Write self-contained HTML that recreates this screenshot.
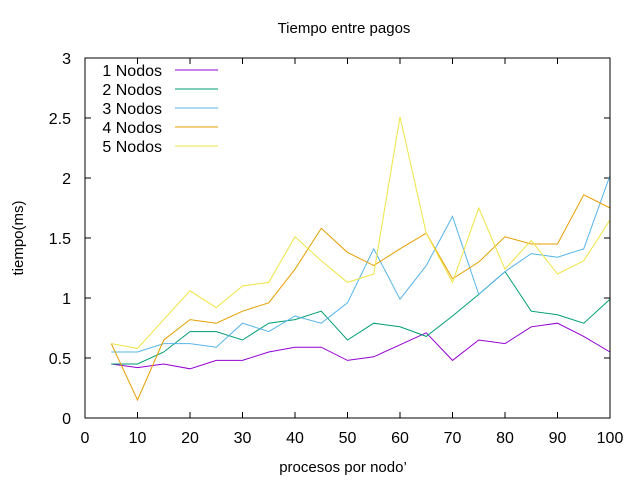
<!DOCTYPE html>
<html><head><meta charset="utf-8"><style>
body{margin:0;background:#fff}
svg{display:block;font-family:"Liberation Sans",sans-serif;font-size:16px}
</style></head><body>
<svg id="chart" width="640" height="480">
<rect width="640" height="480" fill="#fff"/>
<text x="344" y="33" text-anchor="middle" font-size="15">Tiempo entre pagos</text>
<text x="343" y="472" text-anchor="middle" font-size="15">procesos por nodo’</text>
<text transform="translate(23,238) rotate(-90)" text-anchor="middle" font-size="15">tiempo(ms)</text>
<g id="axes"></g><g id="series"></g><g id="legend"></g>
<rect x="85" y="58" width="525" height="360" fill="none" stroke="#000" stroke-width="1"/>
</svg>
<script>
const xValues=[5,10,15,20,25,30,35,40,45,50,55,60,65,70,75,80,85,90,95,100];
const seriesNames=["1 Nodos","2 Nodos","3 Nodos","4 Nodos","5 Nodos"];
const s1=[0.45,0.42,0.45,0.41,0.48,0.48,0.55,0.59,0.59,0.48,0.51,0.61,0.71,0.48,0.65,0.62,0.76,0.79,0.68,0.55];
const s2=[0.45,0.45,0.55,0.72,0.72,0.65,0.79,0.82,0.89,0.65,0.79,0.76,0.68,0.85,1.03,1.22,0.89,0.86,0.79,0.99];
const s3=[0.55,0.55,0.62,0.62,0.59,0.79,0.72,0.85,0.79,0.96,1.41,0.99,1.27,1.68,1.03,1.22,1.37,1.34,1.41,2.02];
const s4=[0.62,0.15,0.65,0.82,0.79,0.89,0.96,1.24,1.58,1.38,1.27,1.41,1.54,1.16,1.30,1.51,1.45,1.45,1.86,1.75];
const s5=[0.62,0.58,0.82,1.06,0.92,1.10,1.13,1.51,1.31,1.13,1.20,2.51,1.54,1.13,1.75,1.24,1.48,1.20,1.31,1.65];
const xTicks=[0,10,20,30,40,50,60,70,80,90,100];
const yTicks=[0,0.5,1,1.5,2,2.5,3];
const yTickLabels=["0","0.5","1","1.5","2","2.5","3"];
const colors=["#9400d3","#009e73","#56b4e9","#e69f00","#f0e442"];
const NS="http://www.w3.org/2000/svg";
const X=v=>85+v*5.25, Y=v=>418-v*120;
const axes=document.getElementById('axes'), ser=document.getElementById('series'), leg=document.getElementById('legend');
function mk(t,a,p){const e=document.createElementNS(NS,t);for(const k in a)e.setAttribute(k,a[k]);p.appendChild(e);return e;}
xTicks.forEach(v=>{
  const l=mk('path',{d:`M${X(v)},418v-6M${X(v)},58v6`,stroke:'#000'},axes);
  
  
  const t=mk('text',{x:X(v),y:443,'text-anchor':'middle'},axes);t.textContent=v;
  
  
});
yTicks.forEach((v,i)=>{
  const l=mk('path',{d:`M85,${Y(v)}h6M610,${Y(v)}h-6`,stroke:'#000'},axes);
  
  
  const t=mk('text',{x:71,y:Y(v)+6,'text-anchor':'end'},axes);t.textContent=yTickLabels[i];
  
  
});
[s1,s2,s3,s4,s5].forEach((s,i)=>{
  const p=mk('polyline',{points:s.map((v,j)=>X(xValues[j])+','+Y(v)).join(' '),fill:'none',stroke:colors[i],'stroke-width':1},ser);
  
  
  const y=70+i*19;
  const t=mk('text',{x:162,y:y+6,'text-anchor':'end'},leg);t.textContent=seriesNames[i];
  
  
  const l=mk('line',{x1:175,x2:218,y1:y,y2:y,stroke:colors[i]},leg);
  
  
});
</script>
</body></html>
